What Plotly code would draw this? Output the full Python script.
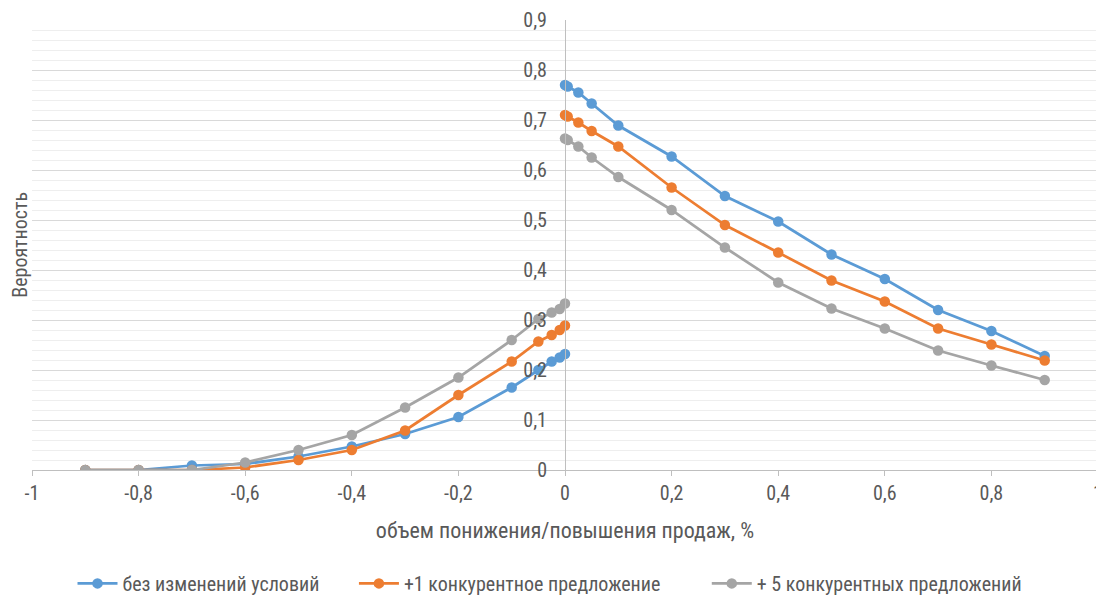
import plotly.graph_objects as go

# ---- data ----
x_left = [-0.9, -0.8, -0.7, -0.6, -0.5, -0.4, -0.3, -0.2, -0.1, -0.05, -0.025, -0.01, 0.0]
x_right = [0.0, 0.005, 0.025, 0.05, 0.1, 0.2, 0.3, 0.4, 0.5, 0.6, 0.7, 0.8, 0.9]

series_names = ["без изменений условий", "+1 конкурентное предложение", "+ 5 конкурентных предложений"]

base_left = [0.0, 0.0, 0.009, 0.012, 0.027, 0.047, 0.072, 0.106, 0.165, 0.2, 0.217, 0.225, 0.232]
base_right = [0.77, 0.767, 0.755, 0.733, 0.689, 0.627, 0.548, 0.497, 0.431, 0.382, 0.32, 0.278, 0.228]

plus1_left = [0.0, 0.0, 0.0, 0.005, 0.02, 0.04, 0.079, 0.15, 0.217, 0.257, 0.27, 0.28, 0.289]
plus1_right = [0.71, 0.707, 0.695, 0.678, 0.647, 0.565, 0.49, 0.435, 0.379, 0.337, 0.283, 0.251, 0.219]

plus5_left = [0.0, 0.0, 0.0, 0.015, 0.04, 0.07, 0.125, 0.185, 0.26, 0.302, 0.315, 0.322, 0.333]
plus5_right = [0.663, 0.66, 0.647, 0.625, 0.586, 0.52, 0.445, 0.375, 0.323, 0.283, 0.239, 0.209, 0.18]

x_tick_vals = [-1, -0.8, -0.6, -0.4, -0.2, 0, 0.2, 0.4, 0.6, 0.8, 1]
x_tick_labels = ["-1", "-0,8", "-0,6", "-0,4", "-0,2", "0", "0,2", "0,4", "0,6", "0,8", "1"]
y_tick_vals = [0, 0.1, 0.2, 0.3, 0.4, 0.5, 0.6, 0.7, 0.8, 0.9]
y_tick_labels = ["0", "0,1", "0,2", "0,3", "0,4", "0,5", "0,6", "0,7", "0,8", "0,9"]

x_title = "объем понижения/повышения продаж, %"
y_title = "Вероятность"

colors = ["#5B9BD5", "#ED7D31", "#A5A5A5"]
FONT = "Liberation Sans Narrow, Roboto Condensed, Arial Narrow, Liberation Sans, sans-serif"
TXT = "#595959"

legend_ids = ["legend", "legend2", "legend3"]
legend_x = [0.038, 0.302, 0.633]

fig = go.Figure()
for i, (name, left, right, col) in enumerate([
    (series_names[0], base_left, base_right, colors[0]),
    (series_names[1], plus1_left, plus1_right, colors[1]),
    (series_names[2], plus5_left, plus5_right, colors[2]),
]):
    fig.add_trace(go.Scatter(
        x=x_left + [None] + x_right,
        y=left + [None] + right,
        mode="lines+markers",
        name=name,
        legend=legend_ids[i],
        line=dict(color=col, width=2.75),
        marker=dict(color=col, size=10.5),
        connectgaps=False,
    ))

leg_common = dict(orientation="h", xanchor="left", y=-0.252, yanchor="middle",
                  font=dict(size=20, color=TXT), itemwidth=40, bgcolor="rgba(0,0,0,0)")

fig.update_layout(
    width=1096, height=587,
    margin=dict(l=24, r=6, t=12, b=125, autoexpand=False),
    paper_bgcolor="white", plot_bgcolor="white",
    font=dict(family=FONT, size=20, color=TXT),
    showlegend=True,
    legend=dict(x=legend_x[0], **leg_common),
    legend2=dict(x=legend_x[1], **leg_common),
    legend3=dict(x=legend_x[2], **leg_common),
    xaxis=dict(
        range=[-1, 1], tickvals=x_tick_vals, ticktext=x_tick_labels,
        showgrid=False, zeroline=False,
        showline=True, linecolor="#BFBFBF", linewidth=1,
        ticks="outside", ticklen=5, tickcolor="#BFBFBF",
        automargin=False,
        title=dict(text=x_title, standoff=18, font=dict(size=22, color=TXT)),
    ),
    yaxis=dict(
        range=[0, 0.9], tickvals=y_tick_vals, ticktext=y_tick_labels,
        anchor="free", position=0.5, automargin=False,
        showgrid=True, gridcolor="#D9D9D9", gridwidth=1,
        minor=dict(dtick=0.02, showgrid=True, gridcolor="#EEEEEE", gridwidth=1),
        zeroline=False,
        showline=True, linecolor="#BFBFBF", linewidth=1,
        ticks="outside", ticklen=14, tickcolor="rgba(0,0,0,0)",
    ),
    annotations=[dict(
        text=y_title, textangle=-90, xref="paper", yref="paper",
        x=-0.0115, y=0.5, xanchor="center", yanchor="middle", showarrow=False,
        font=dict(size=20, color=TXT),
    )],
)

fig.write_html("out.html")
